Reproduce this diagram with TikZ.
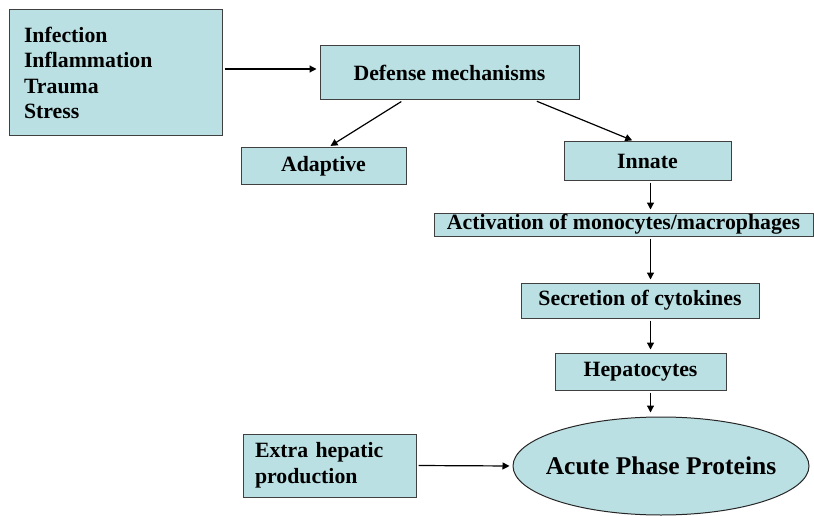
\documentclass[tikz,border=0pt]{standalone}
\usepackage{fontspec}
\setmainfont{Liberation Serif}
\usetikzlibrary{positioning,arrows.meta,shapes.geometric}
\definecolor{boxcyan}{RGB}{187,224,227}
\tikzset{
flow/.style={
    >={Triangle[length=7pt,width=7pt]},
    shorten >=3pt,
    shorten <=2pt,
    line width=1.2pt
},
box/.style={
    rectangle,
    draw=black!75,
    line width=1pt,
    fill=boxcyan,
    inner sep=0pt,
    font=\fontsize{21.8}{25.5}\selectfont\bfseries
},
apps/.style={
    ellipse,
    draw=black!85,
    line width=1pt,
    fill=boxcyan,
    inner xsep=-20pt,
    minimum width=296pt,
    minimum height=98pt,
    font=\fontsize{25.5}{30}\selectfont\bfseries
},
sees/.style={
    ->
}}

\begin{document}
\begin{tikzpicture}[flow, x=1pt, y=-1pt]
\useasboundingbox (0,0) rectangle (814,516);
\node[box]    (causes)    at (115.5,73)    [text width=183pt, inner xsep=15pt, align=left, minimum height=126pt]    {Infection\\Inflammation\\Trauma\\Stress};
\node[box]    (defense)   at (449.5,73)    [minimum width=259pt, minimum height=54pt]    {Defense mechanisms};
\node[box]    (adaptive)  at (323.5,166)   [minimum width=165pt, minimum height=36pt]    {Adaptive};
\node[box]    (innate)    at (647.5,161)   [minimum width=167pt, minimum height=38pt]    {Innate};
\node[box]    (activation) at (623.5,224.5) [minimum width=379pt, minimum height=23pt]   {Activation of monocytes/macrophages};
\node[box]    (secretion) at (640,300.5)   [minimum width=238pt, minimum height=35pt]    {Secretion of cytokines};
\node[box]    (hepato)    at (640.5,371.5) [minimum width=171pt, minimum height=37pt]    {Hepatocytes};
\node[box]    (extra)     at (329.5,465.5) [text width=149pt, inner xsep=12pt, align=left, minimum height=63pt, font=\fontsize{21.8}{26}\selectfont\bfseries]    {Extra hepatic\\production};
\node[apps]   (proteins)  at (661,466)     {Acute Phase Proteins};
\coordinate   (spine)     at (650.5,0);

\path    ([yshift=4pt]causes.east)    edge[sees]    ([yshift=4pt]defense.west);
\path    ([xshift=-46.5pt]defense.south)    edge[sees]    ([xshift=4.5pt]adaptive.north);
\path    ([xshift=85.5pt]defense.south)    edge[sees]    ([xshift=-12.5pt]innate.north);
\path    (spine |- innate.south)    edge[sees]    (spine |- activation.north);
\path    (spine |- activation.south)    edge[sees]    (spine |- secretion.north);
\path    (spine |- secretion.south)    edge[sees]    (spine |- hepato.north);
\path    (spine |- hepato.south)    edge[sees, shorten >=4pt]    (spine |- proteins.north);
\path    (extra.east)    edge[sees]    (proteins.west);
\end{tikzpicture}
\end{document}
